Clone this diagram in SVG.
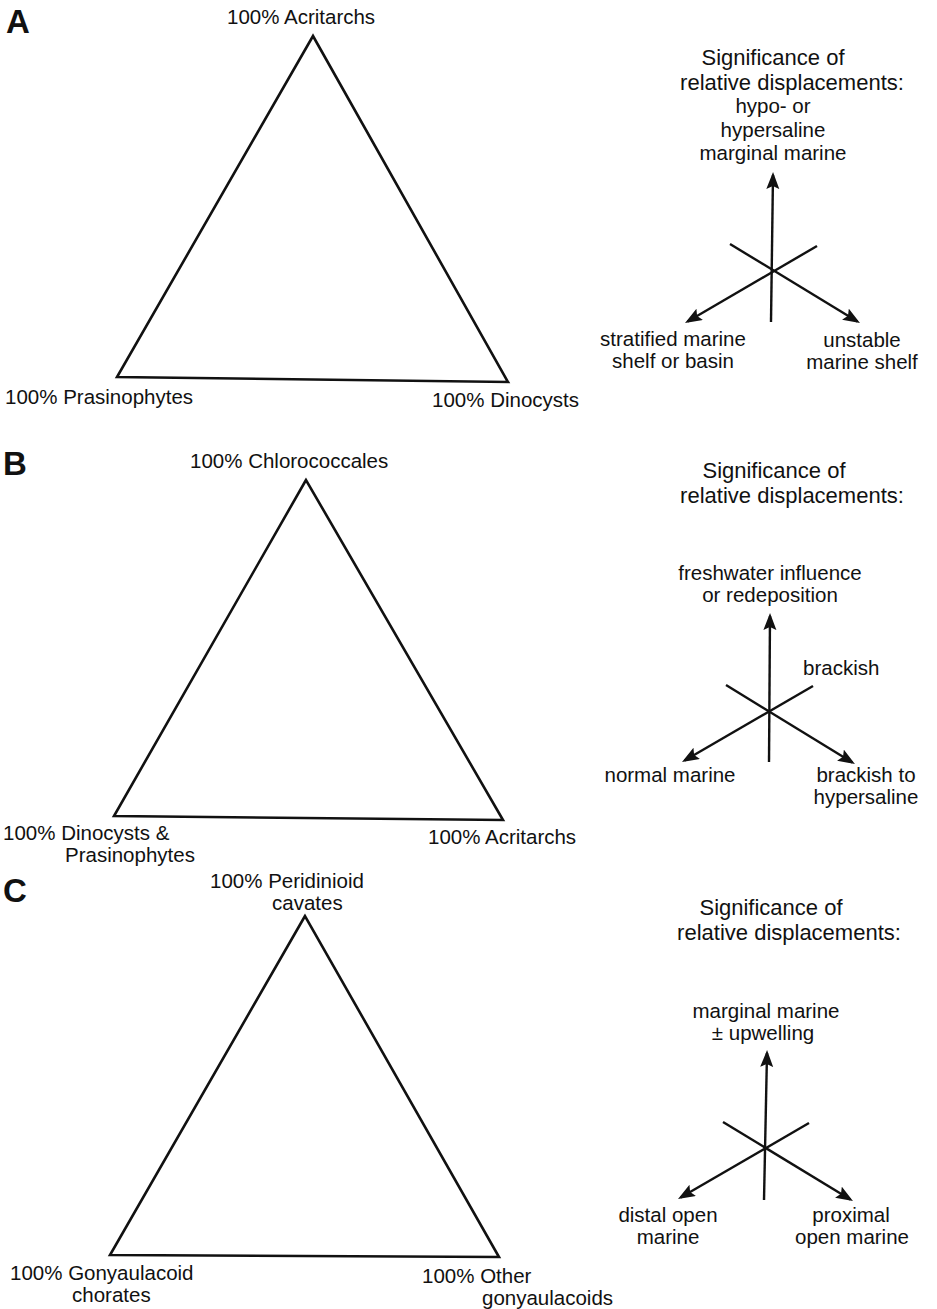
<svg xmlns="http://www.w3.org/2000/svg" width="937" height="1309" viewBox="0 0 937 1309">
<defs>
<style>
text{font-family:"Liberation Sans",Arial,sans-serif;font-size:20.5px;fill:#111}
.lbl{font-weight:bold;font-size:33px}
.hd{font-size:22px}
.m{text-anchor:middle}
.tri{fill:none;stroke:#111;stroke-width:2.6;stroke-linejoin:miter}
.ax{fill:none;stroke:#111;stroke-width:2.4}
.arr{marker-end:url(#ah)}
</style>
<marker id="ah" markerUnits="userSpaceOnUse" markerWidth="20" markerHeight="14" refX="14" refY="6.5" orient="auto">
<path d="M0,0 L17,6.5 L0,13 L3,6.5 z" fill="#111"/>
</marker>
</defs>
<rect width="937" height="1309" fill="#fff"/>

<!-- Panel A -->
<g id="panelA">
<text class="lbl" x="6" y="33">A</text>
<g id="triA">
<polygon class="tri" points="313,36 117,377 508,382"/>
<text x="227" y="24">100% Acritarchs</text>
<text x="5" y="404">100% Prasinophytes</text>
<text x="432" y="407">100% Dinocysts</text>
</g>
<g id="keyA">
<text class="hd m" x="773" y="65">Significance of</text>
<text class="hd m" x="792" y="90">relative displacements:</text>
<text class="m" x="773" y="113">hypo- or</text>
<text class="m" x="773" y="137">hypersaline</text>
<text class="m" x="773" y="160">marginal marine</text>
<text class="m" x="673" y="346">stratified marine</text>
<text class="m" x="673" y="368">shelf or basin</text>
<text class="m" x="862" y="347">unstable</text>
<text class="m" x="862" y="369">marine shelf</text>
</g>
</g>

<!-- Panel B -->
<g id="panelB">
<text class="lbl" x="3" y="475">B</text>
<g id="triB">
<polygon class="tri" points="306,480 114,816 503,820"/>
<text x="190" y="468">100% Chlorococcales</text>
<text x="3" y="840">100% Dinocysts &amp;</text>
<text x="65" y="862">Prasinophytes</text>
<text x="428" y="844">100% Acritarchs</text>
</g>
<g id="keyB">
<text class="hd m" x="774" y="478">Significance of</text>
<text class="hd m" x="792" y="503">relative displacements:</text>
<text class="m" x="770" y="580">freshwater influence</text>
<text class="m" x="770" y="602">or redeposition</text>
<text x="803" y="675">brackish</text>
<text class="m" x="670" y="782">normal marine</text>
<text class="m" x="866" y="782">brackish to</text>
<text class="m" x="866" y="804">hypersaline</text>
</g>
</g>

<!-- Panel C -->
<g id="panelC">
<text class="lbl" x="3" y="902">C</text>
<g id="triC">
<polygon class="tri" points="305,916 110,1255 499,1257"/>
<text x="210" y="888">100% Peridinioid</text>
<text x="272" y="910">cavates</text>
<text x="10" y="1280">100% Gonyaulacoid</text>
<text x="72" y="1302">chorates</text>
<text x="422" y="1283">100% Other</text>
<text x="482" y="1305">gonyaulacoids</text>
</g>
<g id="keyC">
<text class="hd m" x="771" y="915">Significance of</text>
<text class="hd m" x="789" y="940">relative displacements:</text>
<text class="m" x="766" y="1018">marginal marine</text>
<text class="m" x="763" y="1040">± upwelling</text>
<text class="m" x="668" y="1222">distal open</text>
<text class="m" x="668" y="1244">marine</text>
<text class="m" x="851" y="1222">proximal</text>
<text class="m" x="852" y="1244">open marine</text>
</g>
</g>

<!-- Connectors (displacement axes) -->
<g id="connectors">
<line class="ax arr" x1="771" y1="322" x2="773" y2="175"/>
<line class="ax arr" x1="730" y1="244" x2="857.4" y2="321.5"/>
<line class="ax arr" x1="817" y1="246" x2="687.6" y2="321.5"/>

<line class="ax arr" x1="769" y1="762" x2="770" y2="616"/>
<line class="ax arr" x1="726" y1="685" x2="852.4" y2="762.5"/>
<line class="ax arr" x1="813" y1="686" x2="684.6" y2="760.5"/>

<line class="ax arr" x1="764" y1="1200" x2="767" y2="1053"/>
<line class="ax arr" x1="723" y1="1122" x2="850.4" y2="1199.5"/>
<line class="ax arr" x1="809" y1="1123" x2="680.6" y2="1197.5"/>
</g>
</svg>
